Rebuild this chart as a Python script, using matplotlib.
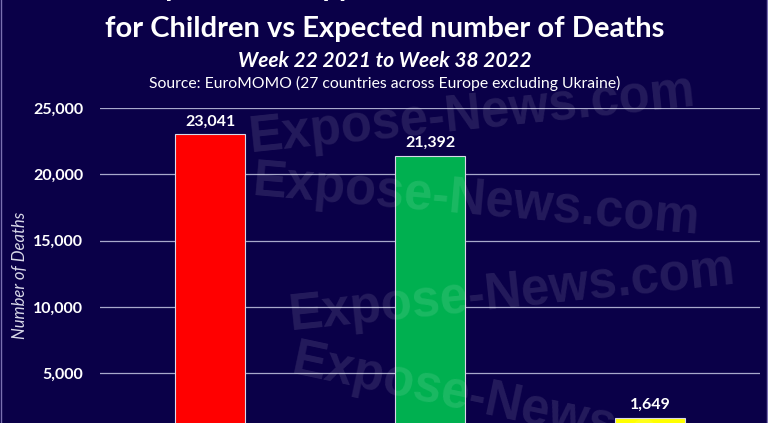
import matplotlib
matplotlib.use("Agg")
import matplotlib.pyplot as plt
from matplotlib.ticker import FuncFormatter

# data
categories = ["Deaths", "Expected", "Excess"]
values = [23041, 21392, 1649]
bar_colors = ["#FF0000", "#00B050", "#FFFF00"]
yticks = [0, 5000, 10000, 15000, 20000, 25000]

title_top = "Comparison of Approximate Excess Deaths"
title = "for Children vs Expected number of Deaths"
subtitle = "Week 22 2021 to Week 38 2022"
source = "Source: EuroMOMO (27 countries across Europe excluding Ukraine)"
watermark = "Expose-News.com"

bg = "#0A0048"
W, H = 768, 423

fig = plt.figure(figsize=(W / 100, H / 100), dpi=100, facecolor=bg)

# axes reach a bit below the bottom edge (picture is cropped there)
ax = fig.add_axes([100 / W, -16.5 / H, 660 / W, 331.5 / H])
ax.set_facecolor(bg)
ax.set_xlim(-0.5, len(categories) - 0.5)
ax.set_ylim(0, 25000)
ax.bar(range(len(categories)), values, width=70 / 220, color=bar_colors,
       edgecolor="#D8D8E8", linewidth=0.8, zorder=3)
ax.set_yticks(yticks)
ax.yaxis.set_major_formatter(FuncFormatter(lambda v, p: f"{int(v):,}"))
ax.grid(axis="y", color="#A8A8CC", linewidth=0.9, zorder=0)
ax.set_xticks([])
for s in ax.spines.values():
    s.set_visible(False)
ax.tick_params(axis="y", length=0, pad=12, labelcolor="white", labelsize=11.5)
for lab in ax.get_yticklabels():
    lab.set_fontweight("bold")
    lab.set_family("Lato")

for i, v in enumerate(values):
    ax.annotate(f"{v:,}", (i, v), xytext=(0, 4), textcoords="offset points",
                ha="center", va="bottom", color="white", fontsize=11.5,
                fontweight="bold", family="Lato", zorder=4)

# titles
fig.text(385 / W, 1 + 4 / H, title_top, ha="center", va="baseline",
         color="white", fontsize=21, fontweight="bold", family="Lato")
fig.text(385 / W, 1 - 37 / H, title, ha="center", va="baseline",
         color="white", fontsize=21, fontweight="bold", family="Lato")
fig.text(385 / W, 1 - 67 / H, subtitle, ha="center", va="baseline",
         color="white", fontsize=15, fontweight="bold", style="italic", family="Lato")
fig.text(385 / W, 1 - 88 / H, source, ha="center", va="baseline",
         color="white", fontsize=11.3, family="Lato")

fig.text(20 / W, 1 - 275 / H, "Number of Deaths", rotation=90, ha="center",
         va="center", color="#D8D8E8", fontsize=12, style="italic", family="Lato")

# watermarks
for x, y, rot in [(250, 152, 6), (252, 195, -5), (290, 330, 6), (290, 373, -12)]:
    fig.text(x / W, 1 - y / H, watermark, rotation=rot, rotation_mode="anchor",
             ha="left", va="baseline", color="white", alpha=0.11,
             fontsize=36.5, fontweight="bold", family="Liberation Sans", zorder=10)

# thin frame lines at the side edges
fig.add_artist(plt.Line2D([1 / W, 1 / W], [0, 1], color="#7A70B0", lw=1))
fig.add_artist(plt.Line2D([766.5 / W, 766.5 / W], [0, 1], color="#7A70B0", lw=1))

fig.savefig("out.png", dpi=100, facecolor=bg)
